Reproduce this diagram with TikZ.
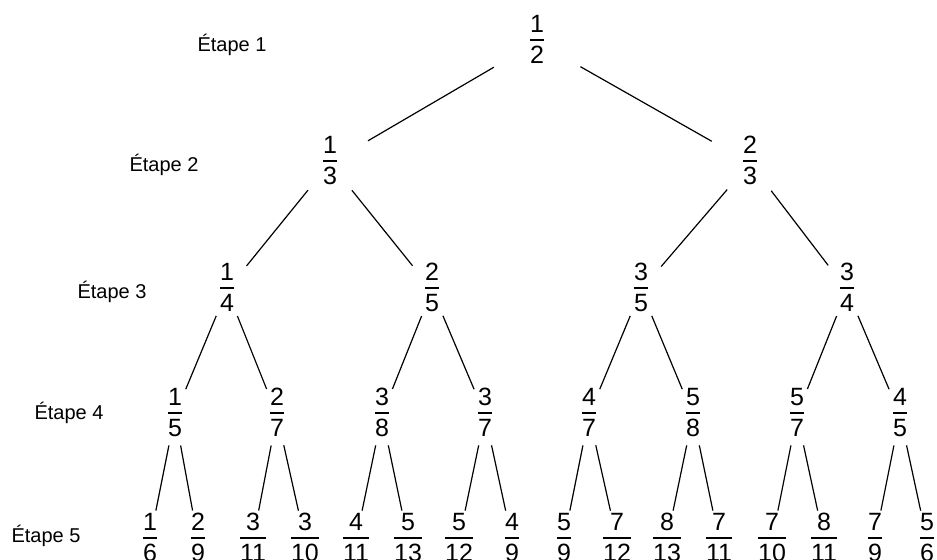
\documentclass[tikz,border=0pt]{standalone}
\usepackage{fontspec}
\setmainfont{Liberation Sans}
\newcommand{\fr}[2]{\begin{tabular}{@{}c@{}}#1\\[-1pt]\hline\rule{0pt}{11.5pt}#2\end{tabular}}
\tikzset{
  frac/.style={inner sep=0pt,font=\fontsize{12.5}{15}\selectfont},
  etape/.style={font=\fontsize{10}{12}\selectfont},
  branch/.style={line width=0.6pt},
  bA/.style={branch,shorten <=25pt,shorten >=22pt},
  bB/.style={branch,shorten <=17.5pt,shorten >=15.5pt},
  bC/.style={branch,shorten <=14pt,shorten >=14pt},
  bD/.style={branch,shorten <=15.5pt,shorten >=15pt}
}
\begin{document}
\begin{tikzpicture}[x=0.5pt,y=-0.5pt]
\useasboundingbox (0,0) rectangle (937,559);
\setlength{\arrayrulewidth}{0.6pt}
% stage labels
\node[etape] (e1) at (232,45) {Étape 1};
\node[etape] (e2) at (164,165) {Étape 2};
\node[etape] (e3) at (112,292) {Étape 3};
\node[etape] (e4) at (69,413) {Étape 4};
\node[etape] (e5) at (46,536) {Étape 5};
% level 1
\node[frac] (r) at (537,42) {\fr{1}{2}};
% level 2
\node[frac] (a) at (330,163) {\fr{1}{3}};
\node[frac] (b) at (750,163) {\fr{2}{3}};
% level 3
\node[frac] (aa) at (227,290) {\fr{1}{4}};
\node[frac] (ab) at (432,290) {\fr{2}{5}};
\node[frac] (ba) at (641,290) {\fr{3}{5}};
\node[frac] (bb) at (847,290) {\fr{3}{4}};
% level 4
\node[frac] (aaa) at (175,415) {\fr{1}{5}};
\node[frac] (aab) at (277,415) {\fr{2}{7}};
\node[frac] (aba) at (382,415) {\fr{3}{8}};
\node[frac] (abb) at (485,415) {\fr{3}{7}};
\node[frac] (baa) at (589,415) {\fr{4}{7}};
\node[frac] (bab) at (693,415) {\fr{5}{8}};
\node[frac] (bba) at (797,415) {\fr{5}{7}};
\node[frac] (bbb) at (900,415) {\fr{4}{5}};
% level 5
\node[frac] (c1) at (150,540) {\fr{1}{6}};
\node[frac] (c2) at (198,540) {\fr{2}{9}};
\node[frac] (c3) at (253,540) {\fr{3}{11}};
\node[frac] (c4) at (305,540) {\fr{3}{10}};
\node[frac] (c5) at (356,540) {\fr{4}{11}};
\node[frac] (c6) at (408,540) {\fr{5}{13}};
\node[frac] (c7) at (459,540) {\fr{5}{12}};
\node[frac] (c8) at (512,540) {\fr{4}{9}};
\node[frac] (c9) at (564,540) {\fr{5}{9}};
\node[frac] (c10) at (617,540) {\fr{7}{12}};
\node[frac] (c11) at (667,540) {\fr{8}{13}};
\node[frac] (c12) at (719,540) {\fr{7}{11}};
\node[frac] (c13) at (772,540) {\fr{7}{10}};
\node[frac] (c14) at (824,540) {\fr{8}{11}};
\node[frac] (c15) at (875,540) {\fr{7}{9}};
\node[frac] (c16) at (927,540) {\fr{5}{6}};
% branches
\draw[bA] (r.center) -- (a.center);
\draw[bA] (r.center) -- (b.center);
\draw[bB] (a.center) -- (aa.center);
\draw[bB] (a.center) -- (ab.center);
\draw[bB] (b.center) -- (ba.center);
\draw[bB] (b.center) -- (bb.center);
\draw[bC] (aa.center) -- (aaa.center);
\draw[bC] (aa.center) -- (aab.center);
\draw[bC] (ab.center) -- (aba.center);
\draw[bC] (ab.center) -- (abb.center);
\draw[bC] (ba.center) -- (baa.center);
\draw[bC] (ba.center) -- (bab.center);
\draw[bC] (bb.center) -- (bba.center);
\draw[bC] (bb.center) -- (bbb.center);
\draw[bD] (aaa.center) -- (c1.center);
\draw[bD] (aaa.center) -- (c2.center);
\draw[bD] (aab.center) -- (c3.center);
\draw[bD] (aab.center) -- (c4.center);
\draw[bD] (aba.center) -- (c5.center);
\draw[bD] (aba.center) -- (c6.center);
\draw[bD] (abb.center) -- (c7.center);
\draw[bD] (abb.center) -- (c8.center);
\draw[bD] (baa.center) -- (c9.center);
\draw[bD] (baa.center) -- (c10.center);
\draw[bD] (bab.center) -- (c11.center);
\draw[bD] (bab.center) -- (c12.center);
\draw[bD] (bba.center) -- (c13.center);
\draw[bD] (bba.center) -- (c14.center);
\draw[bD] (bbb.center) -- (c15.center);
\draw[bD] (bbb.center) -- (c16.center);
\end{tikzpicture}
\end{document}
